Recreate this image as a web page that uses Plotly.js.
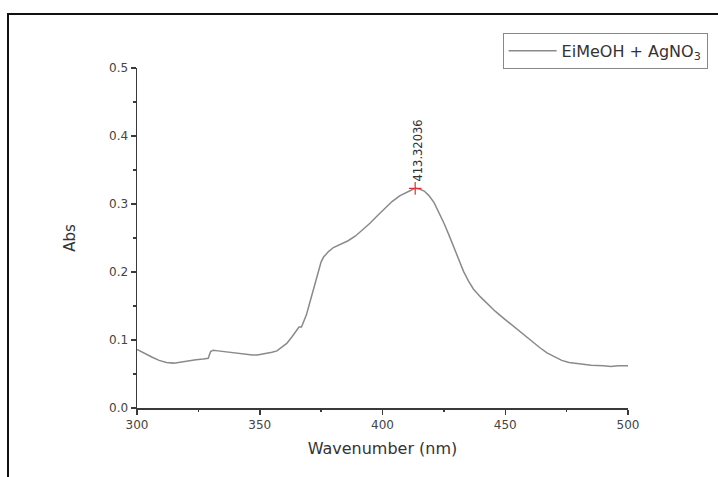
<!DOCTYPE html>
<html>
<head>
<meta charset="utf-8">
<script src="https://cdn.plot.ly/plotly-3.0.1.min.js"></script>
<style>
  html, body { margin: 0; padding: 0; background: #fff; overflow: hidden; }
  #wrap { position: relative; width: 718px; height: 477px; }
  #chart { position: absolute; left: 0; top: 0; width: 718px; height: 477px; }
  #frame { position: absolute; left: 7px; top: 13px; width: 800px; height: 600px;
           border-top: 2px solid #111; border-left: 2px solid #111; pointer-events: none; }
</style>
</head>
<body>
<div id="wrap">
  <div id="chart"></div>
  <div id="frame"></div>
</div>
<script>
const wavelength = [300,303,306,309,312,315,318,321,324,327,329,330,331,333,335,337,339,341,343,345,347,349,351,353,355,357,359,361,363,365,366,367,368,369,370,371,372,373,374,375,376,378,380,383,386,389,392,395,398,401,404,407,410,412,413.32036,415,417,419,421,423,425,427,429,431,433,435,437,440,443,446,449,452,455,458,461,464,467,470,473,476,480,485,490,493,496,500];
const absorbance = [0.086,0.080,0.075,0.070,0.067,0.066,0.068,0.070,0.071,0.072,0.073,0.083,0.085,0.084,0.083,0.083,0.082,0.080,0.079,0.078,0.078,0.078,0.079,0.081,0.082,0.084,0.089,0.095,0.104,0.115,0.119,0.119,0.127,0.137,0.150,0.163,0.178,0.193,0.206,0.215,0.222,0.230,0.236,0.241,0.246,0.253,0.262,0.272,0.283,0.294,0.304,0.312,0.318,0.321,0.323,0.322,0.319,0.312,0.302,0.288,0.272,0.255,0.237,0.218,0.201,0.187,0.175,0.163,0.152,0.142,0.133,0.124,0.115,0.106,0.097,0.089,0.081,0.075,0.070,0.067,0.065,0.063,0.062,0.061,0.062,0.062];
const peakX = [413.32036];
const peakY = [0.323];
const peakLabel = ["413.32036"];
const seriesName = "EiMeOH + AgNO<sub>3</sub>";
const xTicks = [300,350,400,450,500];
const yTicks = [0.0,0.1,0.2,0.3,0.4,0.5];

const font = "DejaVu Sans, Arial, sans-serif";
const axisColor = "#3a3a3a";

const traces = [
  {
    x: wavelength, y: absorbance, type: "scatter", mode: "lines",
    name: seriesName,
    line: { color: "#8a8a8a", width: 1.5 }
  },
  {
    x: peakX, y: peakY, type: "scatter", mode: "markers",
    showlegend: false,
    marker: { symbol: "cross-thin", size: 9, line: { color: "#e03030", width: 1.2 }, color: "#e03030" }
  }
];

const layout = {
  width: 718, height: 477,
  margin: { l: 136.7, r: 89.7, t: 68, b: 69, autoexpand: false },
  paper_bgcolor: "#fff", plot_bgcolor: "#fff",
  font: { family: font, color: "#333", size: 12 },
  showlegend: true,
  legend: {
    xref: "container", yref: "container",
    x: 0.700, y: 0.931, xanchor: "left", yanchor: "top",
    bordercolor: "#888", borderwidth: 1, bgcolor: "#fff",
    font: { family: font, size: 16, color: "#333" },
    itemwidth: 48,
    tracegroupgap: 0
  },
  xaxis: {
    range: [300, 500], tickvals: xTicks, ticktext: xTicks.map(String),
    showline: true, linecolor: axisColor, linewidth: 1.5, mirror: false,
    ticks: "outside", ticklen: 5, tickwidth: 1.5, tickcolor: axisColor,
    minor: { dtick: 25, ticks: "outside", ticklen: 2.5, tickwidth: 1.5, tickcolor: axisColor, showgrid: false },
    showgrid: false, zeroline: false,
    tickfont: { family: font, size: 12, color: "#444" },
    title: { text: "Wavenumber (nm)", font: { family: font, size: 16, color: "#333" }, standoff: 12 }
  },
  yaxis: {
    range: [0, 0.5], tickvals: yTicks, ticktext: yTicks.map(v => v.toFixed(1)),
    showline: true, linecolor: axisColor, linewidth: 1.5, mirror: false,
    ticks: "outside", ticklen: 5, tickwidth: 1.5, tickcolor: axisColor,
    minor: { dtick: 0.05, ticks: "outside", ticklen: 2.5, tickwidth: 1.5, tickcolor: axisColor, showgrid: false },
    showgrid: false, zeroline: false,
    tickfont: { family: font, size: 12, color: "#444" },
    title: { text: "Abs", font: { family: font, size: 15, color: "#333" }, standoff: 30 }
  },
  annotations: [
    {
      x: peakX[0], y: peakY[0], xref: "x", yref: "y",
      text: peakLabel[0], showarrow: false, textangle: -90,
      xanchor: "center", yanchor: "bottom", xshift: 3, yshift: 5,
      font: { family: font, size: 11.5, color: "#333" }
    }
  ]
};

Plotly.newPlot("chart", traces, layout, { staticPlot: true, displayModeBar: false });
</script>
</body>
</html>
